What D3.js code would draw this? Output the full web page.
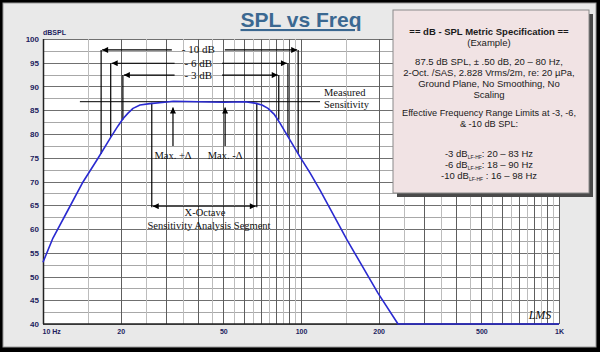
<!DOCTYPE html>
<html>
<head>
<meta charset="utf-8">
<script src="https://cdn.jsdelivr.net/npm/d3@7"></script>
<style>
  body { margin: 0; background: #fff; }
  svg { display: block; }
</style>
</head>
<body>
<svg id="drawing_region"></svg>
<script>
// response curve
const freqs = [10, 10.93, 12.5, 14.29, 16.34, 18.35, 19.53, 20.42, 21.36, 22.33, 23.77, 25.98, 30.24, 32, 40, 50, 60.7,
               66.3, 70.6, 74.5, 78.6, 82.9, 90.7, 99.1, 108.4, 118.5, 150.8, 198.8, 237.7, 300, 500, 1000];
const spl   = [53.0, 58.1, 64.0, 69.9, 74.9, 79.4, 81.7, 83.2, 84.4, 85.4, 86.1, 86.4, 86.75, 86.9, 86.8, 86.7, 86.8,
               86.5, 86.1, 85.4, 84.2, 82.3, 78.7, 75.2, 71.8, 68.2, 57.7, 46.5, 40, 40, 40, 40];

const yTicks = [40, 45, 50, 55, 60, 65, 70, 75, 80, 85, 90, 95, 100];
const xTicks = [10, 20, 50, 100, 200, 500, 1000];
const xTickLabels = ["10 Hz", "20", "50", "100", "200", "500", "1K"];

const infoLines = [
    "87.5 dB SPL, \u00b1 .50 dB, 20 \u2013 80 Hz,",
    "2-Oct. /SAS, 2.828 Vrms/2m, re: 20 \u00b5Pa,",
    "Ground Plane, No Smoothing, No",
    "Scaling"
];
const rangeLines = [
    { pre: "-3 dB", sub: "LF-HF", post: ": 20 \u2013 83 Hz" },
    { pre: "-6 dB", sub: "LF-HF", post: ": 18 \u2013 90 Hz" },
    { pre: "-10 dB", sub: "LF-HF", post: " : 16 \u2013 98 Hz" }
];

// -3/-6/-10 dB range markers (frequency limits and where they meet the curve)
const ranges = [
    { label: "- 10 dB", at: 97.7, lo: 16.8, hi: 97.5, end: 75.8 },
    { label: "- 6 dB",  at: 94.9, lo: 18.3, hi: 89.0, end: 79.4 },
    { label: "- 3 dB",  at: 92.4, lo: 20.4, hi: 82.0, end: 83.0 }
];
const sensitivity = 86.8;

const W = 600, H = 352;
const plot = { left: 43, right: 559, top: 39, bottom: 324 };

const svg = d3.select("#drawing_region")
    .attr("width", W)
    .attr("height", H);

// frame
svg.append("rect").attr("width", W).attr("height", H).attr("fill", "#000");
svg.append("rect").attr("x", 3).attr("y", 3).attr("width", W - 7).attr("height", H - 8)
    .attr("fill", "#e9e9e9").attr("stroke", "#9a9a9a").attr("stroke-width", 1);

const x = d3.scaleLog().domain([10, 1000]).range([plot.left, plot.right]);
const y = d3.scaleLinear().domain([40, 100]).range([plot.bottom, plot.top]);

svg.append("rect")
    .attr("x", plot.left).attr("y", plot.top)
    .attr("width", plot.right - plot.left).attr("height", plot.bottom - plot.top)
    .attr("fill", "#fff");

// grid
const grid = svg.append("g");
const hLines = d3.range(40, 100.01, 2.5);
grid.selectAll(".h").data(hLines).enter().append("line")
    .attr("x1", plot.left).attr("x2", plot.right)
    .attr("y1", d => Math.round(y(d)) + 0.5).attr("y2", d => Math.round(y(d)) + 0.5)
    .attr("stroke", d => d % 5 === 0 ? "#707070" : "#a8a8a8")
    .attr("stroke-width", 1);

const vLines = [];
[10, 100].forEach(dec => {
    for (let m = 1; m < 10; m += 0.5) vLines.push({ f: m * dec, major: m % 1 === 0 });
});
vLines.push({ f: 1000, major: true });
grid.selectAll(".v").data(vLines).enter().append("line")
    .attr("x1", d => Math.round(x(d.f)) + 0.5).attr("x2", d => Math.round(x(d.f)) + 0.5)
    .attr("y1", plot.top).attr("y2", plot.bottom)
    .attr("stroke", d => d.major ? "#5e5e5e" : "#bcbcbc")
    .attr("stroke-width", 1);

// axis lines
svg.append("line").attr("x1", plot.left + 0.5).attr("x2", plot.left + 0.5)
    .attr("y1", plot.top).attr("y2", plot.bottom).attr("stroke", "#222").attr("stroke-width", 1.5);
svg.append("line").attr("x1", plot.left).attr("x2", plot.right)
    .attr("y1", plot.bottom).attr("y2", plot.bottom).attr("stroke", "#222").attr("stroke-width", 1.5);

// axes labels
const sans = "Arial, 'Liberation Sans', sans-serif";
const yAxis = d3.axisLeft(y).tickValues(yTicks).tickSize(0).tickPadding(4);
const yg = svg.append("g").attr("transform", `translate(${plot.left},0)`).call(yAxis);
yg.select(".domain").remove();
yg.selectAll("text")
    .attr("font-family", sans)
    .attr("font-weight", "bold").attr("font-size", 8).attr("fill", "#1d1d5e");

const xAxis = d3.axisBottom(x).tickValues(xTicks).tickSize(0).tickPadding(5)
    .tickFormat((d, i) => xTickLabels[i]);
const xg = svg.append("g").attr("transform", `translate(0,${plot.bottom})`).call(xAxis);
xg.select(".domain").remove();
xg.selectAll("text")
    .attr("font-family", sans)
    .attr("font-weight", "bold").attr("font-size", 7).attr("fill", "#1d1d5e")
    .attr("text-anchor", (d, i) => i === 0 ? "start" : "middle")
    .attr("dx", (d, i) => i === 0 ? -1 : 0);

svg.append("text").attr("x", plot.left).attr("y", 35)
    .attr("font-family", sans)
    .attr("font-weight", "bold").attr("font-size", 7).attr("fill", "#1d1d5e")
    .text("dBSPL");

// title
svg.append("text").attr("x", 301).attr("y", 27).attr("text-anchor", "middle")
    .attr("font-family", sans)
    .attr("font-weight", "bold").attr("font-size", 21).attr("fill", "#3b6891")
    .attr("text-decoration", "underline")
    .text("SPL vs Freq");

// annotations
const defs = svg.append("defs");
defs.append("marker").attr("id", "arr")
    .attr("viewBox", "0 0 10 10").attr("refX", 10).attr("refY", 5)
    .attr("markerWidth", 8).attr("markerHeight", 6)
    .attr("markerUnits", "userSpaceOnUse").attr("orient", "auto-start-reverse")
    .append("path").attr("d", "M0,0 L10,5 L0,10 z").attr("fill", "#000");

const ann = svg.append("g").attr("stroke", "#000").attr("stroke-width", 1.2);
const serif = "'Times New Roman', 'Liberation Serif', serif";
const labelX = x(40);

ranges.forEach(r => {
    const yy = y(r.at);
    const xl = x(r.lo), xh = x(r.hi);
    const t = svg.append("text").attr("x", labelX).attr("y", yy + 3.5)
        .attr("text-anchor", "middle").attr("font-family", serif).attr("font-size", 11)
        .attr("fill", "#111").text(r.label);
    const bb = t.node().getBBox();
    ann.append("line").attr("x1", bb.x - 10).attr("x2", xl + 1)
        .attr("y1", yy).attr("y2", yy).attr("marker-end", "url(#arr)");
    ann.append("line").attr("x1", bb.x + bb.width + 10).attr("x2", xh - 1)
        .attr("y1", yy).attr("y2", yy).attr("marker-end", "url(#arr)");
    ann.append("line").attr("x1", xl).attr("x2", xl).attr("y1", yy).attr("y2", y(r.end));
    ann.append("line").attr("x1", xh).attr("x2", xh).attr("y1", yy).attr("y2", y(r.end));
});

// measured sensitivity
ann.append("line").attr("x1", x(13.9)).attr("x2", x(118.5))
    .attr("y1", y(sensitivity)).attr("y2", y(sensitivity)).attr("stroke-width", 1);
svg.append("text").attr("x", 324).attr("y", 96)
    .attr("font-family", serif).attr("font-size", 10.5).attr("fill", "#111").text("Measured");
svg.append("text").attr("x", 324).attr("y", 108)
    .attr("font-family", serif).attr("font-size", 10.5).attr("fill", "#111").text("Sensitivity");

// max +/- delta
[{ f: 31.9, label: "Max. +\u0394" }, { f: 50.8, label: "Max. -\u0394" }].forEach(m => {
    ann.append("line").attr("x1", x(m.f)).attr("x2", x(m.f))
        .attr("y1", y(77.5)).attr("y2", y(85.6)).attr("marker-end", "url(#arr)");
    svg.append("text").attr("x", x(m.f)).attr("y", y(75.6) + 4).attr("text-anchor", "middle")
        .attr("font-family", serif).attr("font-size", 10.5).attr("fill", "#111").text(m.label);
});

// x-octave segment
const segLo = 26.4, segHi = 67.4;
[segLo, segHi].forEach(f => {
    ann.append("line").attr("x1", x(f)).attr("x2", x(f))
        .attr("y1", y(86.6)).attr("y2", y(64.6));
});
ann.append("line").attr("x1", x(segLo) + 1).attr("x2", x(segHi) - 1)
    .attr("y1", y(64.8)).attr("y2", y(64.8)).attr("stroke-width", 1)
    .attr("marker-start", "url(#arr)").attr("marker-end", "url(#arr)");
svg.append("text").attr("x", 205).attr("y", 216).attr("text-anchor", "middle")
    .attr("font-family", serif).attr("font-size", 10.5).attr("fill", "#111").text("X-Octave");
svg.append("text").attr("x", 209).attr("y", 229).attr("text-anchor", "middle")
    .attr("font-family", serif).attr("font-size", 10.5).attr("fill", "#111").text("Sensitivity Analysis Segment");

// response curve
const line = d3.line()
    .x((d, i) => x(freqs[i]))
    .y(d => y(d));
svg.append("path").datum(spl)
    .attr("d", line)
    .attr("fill", "none").attr("stroke", "#2a2ad0").attr("stroke-width", 1.6)
    .attr("stroke-linejoin", "round");

// signature
svg.append("text").attr("x", 540).attr("y", 319).attr("text-anchor", "middle")
    .attr("font-family", serif).attr("font-style", "italic").attr("font-size", 12)
    .attr("fill", "#111").text("LMS");

// info box
const box = { x: 393, y: 10, w: 196, h: 183 };
svg.append("rect").attr("x", box.x + 4).attr("y", box.y + 4).attr("width", box.w).attr("height", box.h)
    .attr("fill", "#4a4a4a");
svg.append("rect").attr("x", box.x).attr("y", box.y).attr("width", box.w).attr("height", box.h)
    .attr("fill", "#f1e3e4").attr("stroke", "#8a8a8a").attr("stroke-width", 1);

const cx = 489;
const info = svg.append("g").attr("font-family", sans).attr("fill", "#1a1a1a").attr("text-anchor", "middle");
info.append("text").attr("x", cx).attr("y", 35).attr("font-size", 9.5).attr("font-weight", "bold")
    .text("== dB - SPL Metric Specification ==");
info.append("text").attr("x", cx).attr("y", 45.5).attr("font-size", 9.5).text("(Example)");
infoLines.forEach((s, i) => {
    info.append("text").attr("x", cx).attr("y", 64.5 + i * 11.3).attr("font-size", 9.5).text(s);
});
info.append("text").attr("x", cx).attr("y", 116).attr("font-size", 9.2)
    .text("Effective Frequency Range Limits at -3, -6,");
info.append("text").attr("x", cx).attr("y", 126.5).attr("font-size", 9.2).text("& -10 dB SPL:");
rangeLines.forEach((r, i) => {
    const t = info.append("text").attr("x", cx).attr("y", 157 + i * 11).attr("font-size", 9.5);
    t.append("tspan").text(r.pre);
    t.append("tspan").attr("font-size", 5).attr("dy", 2).text(r.sub);
    t.append("tspan").attr("dy", -2).text(r.post);
});
</script>
</body>
</html>
